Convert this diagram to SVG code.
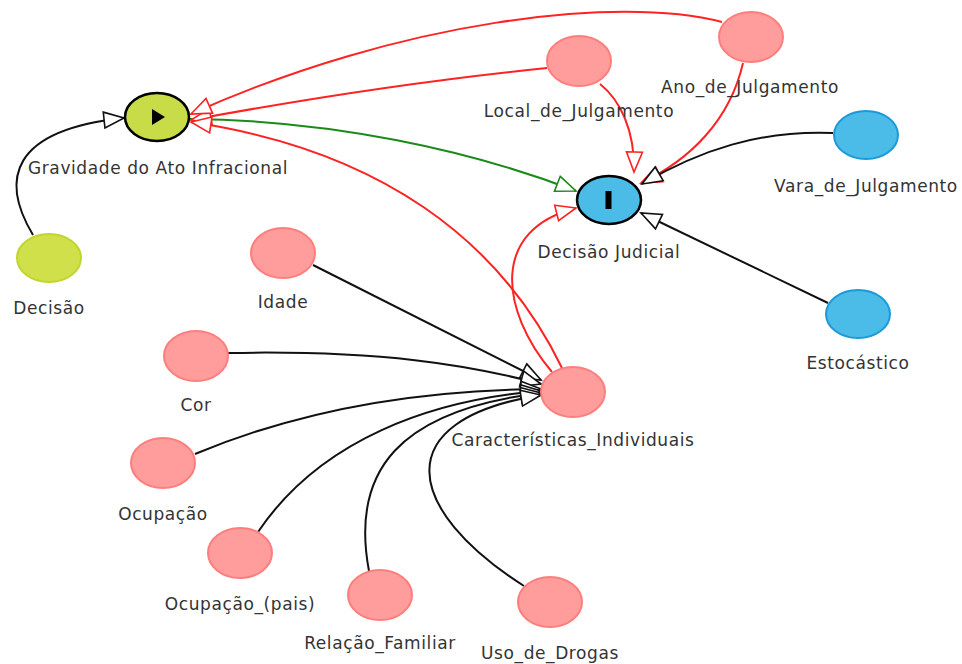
<svg xmlns="http://www.w3.org/2000/svg" width="962" height="664" viewBox="0 0 962 664">
<style>
text{font-family:"DejaVu Sans","Liberation Sans",sans-serif;font-size:17px;letter-spacing:0.6px;fill:#333;text-anchor:middle}
.e{fill:none;stroke-width:2}
.k{stroke:#111;marker-end:url(#mk)}
.r{stroke:#f22;marker-end:url(#mr)}
.g{stroke:#1a8a1a;marker-end:url(#mg)}
.pink{fill:#ff9c9c;stroke:#ff7d7d;stroke-width:2}
.blue{fill:#4bbbe8;stroke:#1a9ad8;stroke-width:2}
.blueo{fill:#4bbbe8;stroke:#000;stroke-width:2.5}
.yel{fill:#cfe04a;stroke:#c2d42e;stroke-width:2}
.yelo{fill:#c8dc48;stroke:#000;stroke-width:2.5}
</style>
<defs>
<marker id="mk" viewBox="-2 -2 24 20" refX="20" refY="8" markerWidth="24" markerHeight="20" markerUnits="userSpaceOnUse" orient="auto" overflow="visible"><path d="M0,0 L20,8 L0,16 Z" fill="#fff" stroke="#111" stroke-width="1.6"/></marker>
<marker id="mr" viewBox="-2 -2 24 20" refX="20" refY="8" markerWidth="24" markerHeight="20" markerUnits="userSpaceOnUse" orient="auto" overflow="visible"><path d="M0,0 L20,8 L0,16 Z" fill="#fff" stroke="#f22" stroke-width="1.6"/></marker>
<marker id="mg" viewBox="-2 -2 24 20" refX="20" refY="8" markerWidth="24" markerHeight="20" markerUnits="userSpaceOnUse" orient="auto" overflow="visible"><path d="M0,0 L20,8 L0,16 Z" fill="#fff" stroke="#1a8a1a" stroke-width="1.6"/></marker>
</defs>
<g id="connectors">
<path class="e k" d="M33,235 C0,180 10,130 124,118"/>
<path class="e g" d="M190,119 C330,120 470,150 576,191"/>
<path class="e r" d="M547,68 Q380,85 191,120"/>
<path class="e r" d="M722,22 C620,-5 400,20 191,114"/>
<path class="e r" d="M562,368 C500,240 380,150 191,122"/>
<path class="e r" d="M552,372 C500,310 490,230 576,208"/>
<path class="e r" d="M600,84 C620,100 635,130 634,172"/>
<path class="e r" d="M743,63 C730,120 690,160 641,183"/>
<path class="e k" d="M833,133 C760,130 700,150 642,184"/>
<path class="e k" d="M828,303 L641,213"/>
<path class="e k" d="M313,265 L541,380"/>
<path class="e k" d="M228,353 C380,350 470,365 541,384"/>
<path class="e k" d="M195,454 C300,410 420,390 541,389"/>
<path class="e k" d="M258,532 C320,440 430,400 541,391"/>
<path class="e k" d="M369,571 C350,470 400,410 541,393"/>
<path class="e k" d="M524,586 C405,510 385,420 541,395"/>
</g>
<g id="n-gravidade"><ellipse class="yelo" cx="157" cy="117" rx="32" ry="24"/><path d="M152,109 L165,117 L152,125 Z" fill="#000"/><text x="158" y="174">Gravidade do Ato Infracional</text></g>
<g id="n-decisao"><ellipse class="yel" cx="49" cy="258" rx="32" ry="24"/><text x="49" y="314">Decisão</text></g>
<g id="n-decisao-judicial"><ellipse class="blueo" cx="609" cy="200" rx="32" ry="24"/><rect x="605.5" y="191" width="6" height="18" fill="#000"/><text x="609" y="258">Decisão Judicial</text></g>
<g id="n-vara"><ellipse class="blue" cx="866" cy="135" rx="32" ry="24"/><text x="866" y="192">Vara_de_Julgamento</text></g>
<g id="n-estocastico"><ellipse class="blue" cx="858" cy="314" rx="32" ry="24"/><text x="858" y="369">Estocástico</text></g>
<g id="n-ano"><ellipse class="pink" cx="751" cy="37" rx="32" ry="25"/><text x="750" y="93">Ano_de_Julgamento</text></g>
<g id="n-local"><ellipse class="pink" cx="579" cy="61" rx="32" ry="25"/><text x="579" y="117">Local_de_Julgamento</text></g>
<g id="n-idade"><ellipse class="pink" cx="283" cy="253" rx="32" ry="25"/><text x="283" y="308">Idade</text></g>
<g id="n-cor"><ellipse class="pink" cx="196" cy="356" rx="32" ry="25"/><text x="196" y="411">Cor</text></g>
<g id="n-caracteristicas"><ellipse class="pink" cx="573" cy="392" rx="32" ry="25"/><text x="573" y="446">Características_Individuais</text></g>
<g id="n-ocupacao"><ellipse class="pink" cx="163" cy="463" rx="32" ry="25"/><text x="163" y="520">Ocupação</text></g>
<g id="n-ocupacao-pais"><ellipse class="pink" cx="240" cy="553" rx="32" ry="25"/><text x="240" y="610">Ocupação_(pais)</text></g>
<g id="n-relacao"><ellipse class="pink" cx="380" cy="595" rx="32" ry="25"/><text x="380" y="649">Relação_Familiar</text></g>
<g id="n-uso"><ellipse class="pink" cx="550" cy="602" rx="32" ry="25"/><text x="550" y="659">Uso_de_Drogas</text></g>
</svg>
